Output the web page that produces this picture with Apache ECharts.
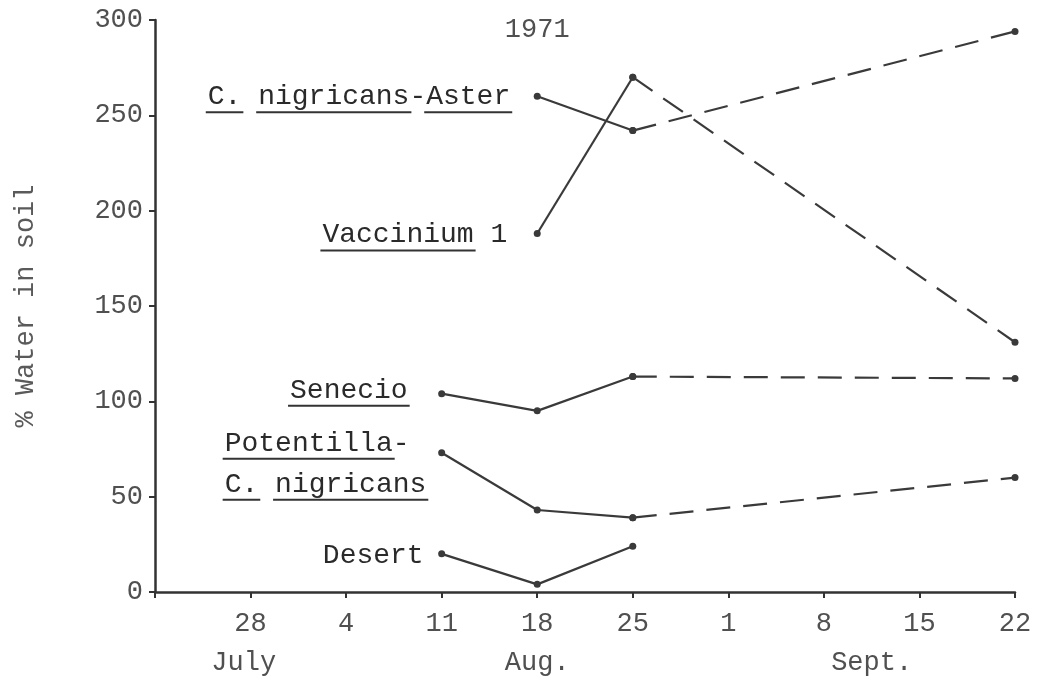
<!DOCTYPE html>
<html><head><meta charset="utf-8">
<script src="https://cdn.jsdelivr.net/npm/echarts@6/dist/echarts.min.js"></script>
<style>html,body{margin:0;padding:0;background:#fff}#c{width:1037px;height:683px}</style>
</head><body><div id="c"></div>
<script>
// x values are days after 21 July 1971 (ticks every week)
const weekTickLabels = ['', '28', '4', '11', '18', '25', '1', '8', '15', '22'];
const monthNames = ['July', 'Aug.', 'Sept.'];
const yearLabel = '1971';
const yAxisTitle = '% Water in soil';

const asterSolid = [[28, 260], [35, 242]];
const asterDashed = [[35, 242], [63, 294]];
const vacciniumSolid = [[28, 188], [35, 270]];
const vacciniumDashed = [[35, 270], [63, 131]];
const senecioSolid = [[21, 104], [28, 95], [35, 113]];
const senecioDashed = [[35, 113], [63, 112]];
const potentillaSolid = [[21, 73], [28, 43], [35, 39]];
const potentillaDashed = [[35, 39], [63, 60]];
const desertSolid = [[21, 20], [28, 4], [35, 24]];

// annotation texts, with underlined character ranges
const labelTexts = [
  { lines: ['C. nigricans-Aster'], under: [[[0, 2], [3, 12], [13, 18]]] },
  { lines: ['Vaccinium 1'], under: [[[0, 9]]] },
  { lines: ['Senecio'], under: [[[0, 7]]] },
  { lines: ['Potentilla-', 'C. nigricans'], under: [[[0, 10]], [[0, 2], [3, 12]]] },
  { lines: ['Desert'], under: [[]] }
];

const INK = '#3a3a3a';
const FAM = '"Liberation Mono", "DejaVu Sans Mono", monospace';
const FS = 27;
const LFS = 28;

const chart = echarts.init(document.getElementById('c'), null, { renderer: 'canvas' });

function solid(data) {
  return { type: 'line', data: data, symbol: 'circle', symbolSize: 7, showSymbol: true,
    lineStyle: { color: INK, width: 2.2, type: 'solid' }, itemStyle: { color: INK },
    z: 3, silent: true, animation: false };
}
function dashed(data) {
  return { type: 'line', data: data, symbol: 'circle', symbolSize: 7, showSymbol: true,
    lineStyle: { color: INK, width: 2.2, type: [24, 13] }, itemStyle: { color: INK },
    z: 2, silent: true, animation: false };
}

chart.setOption({
  backgroundColor: '#fff',
  animation: false,
  grid: { left: 155, right: 22, top: 20, bottom: 91, containLabel: false, outerBoundsMode: 'none' },
  xAxis: {
    type: 'value', min: 0, max: 63, interval: 7,
    axisLine: { show: true, lineStyle: { color: '#333', width: 2.5 } },
    axisTick: { show: true, length: 6, lineStyle: { color: '#333', width: 2 } },
    splitLine: { show: false },
    axisLabel: {
      margin: 18, color: '#505050', fontFamily: FAM, fontSize: FS,
      formatter: function (v) { return weekTickLabels[Math.round(v / 7)] || ''; }
    }
  },
  yAxis: {
    type: 'value', min: 0, max: 300, interval: 50,
    name: yAxisTitle, nameLocation: 'middle', nameRotate: 90, nameGap: 116,
    nameTextStyle: { color: '#5a5a5a', fontFamily: FAM, fontSize: 27 },
    axisLine: { show: true, lineStyle: { color: '#333', width: 2.5 } },
    axisTick: { show: true, length: 6, lineStyle: { color: '#333', width: 2 } },
    splitLine: { show: false },
    axisLabel: { margin: 12, color: '#505050', fontFamily: FAM, fontSize: FS }
  },
  series: [
    solid(asterSolid), dashed(asterDashed),
    solid(vacciniumSolid), dashed(vacciniumDashed),
    solid(senecioSolid), dashed(senecioDashed),
    solid(potentillaSolid), dashed(potentillaDashed),
    solid(desertSolid)
  ]
});

// ---- annotations (layout only; anchored to data points) ----
const mctx = document.createElement('canvas').getContext('2d');
mctx.font = LFS + 'px ' + FAM;
function tw(s) { return mctx.measureText(s).width; }

// anchor point, alignment edge offset (dx), baseline offsets for each line
const labelLayout = [
  { anchor: asterSolid[0], align: 'right', dx: -27, base: [8] },
  { anchor: vacciniumSolid[0], align: 'right', dx: -30, base: [9] },
  { anchor: senecioSolid[0], align: 'right', dx: -34, base: [4] },
  { anchor: potentillaSolid[0], align: 'left', dx: -217, base: [-2, 39] },
  { anchor: desertSolid[0], align: 'right', dx: -18, base: [9] }
];

const g = [];
labelTexts.forEach(function (lab, i) {
  const lay = labelLayout[i];
  const p = chart.convertToPixel({ gridIndex: 0 }, lay.anchor);
  lab.lines.forEach(function (line, j) {
    const w = tw(line);
    const left = lay.align === 'right' ? p[0] + lay.dx - w : p[0] + lay.dx;
    const baseY = p[1] + lay.base[j];
    g.push({ type: 'text', x: left, y: baseY - 0.27 * LFS, silent: true,
      style: { text: line, fill: '#2a2a2a', fontFamily: FAM, fontSize: LFS, align: 'left', verticalAlign: 'middle' } });
    (lab.under[j] || []).forEach(function (r) {
      const x0 = left + tw(line.slice(0, r[0])) - 2;
      const x1 = left + tw(line.slice(0, r[1])) + 2;
      g.push({ type: 'rect', silent: true, shape: { x: x0, y: baseY + 7, width: x1 - x0, height: 2 },
        style: { fill: '#333' } });
    });
  });
});

// month labels under the week ticks
const monthAt = [6.5, 28, 52.5];
monthNames.forEach(function (m, i) {
  const p = chart.convertToPixel({ gridIndex: 0 }, [monthAt[i], 0]);
  g.push({ type: 'text', x: p[0], y: p[1] + 71, silent: true,
    style: { text: m, fill: '#505050', fontFamily: FAM, fontSize: FS, align: 'center', verticalAlign: 'middle' } });
});

// year label
const py = chart.convertToPixel({ gridIndex: 0 }, [28, 295]);
g.push({ type: 'text', x: py[0], y: py[1], silent: true,
  style: { text: yearLabel, fill: '#505050', fontFamily: FAM, fontSize: FS, align: 'center', verticalAlign: 'middle' } });

chart.setOption({ graphic: g });
</script>
</body></html>
